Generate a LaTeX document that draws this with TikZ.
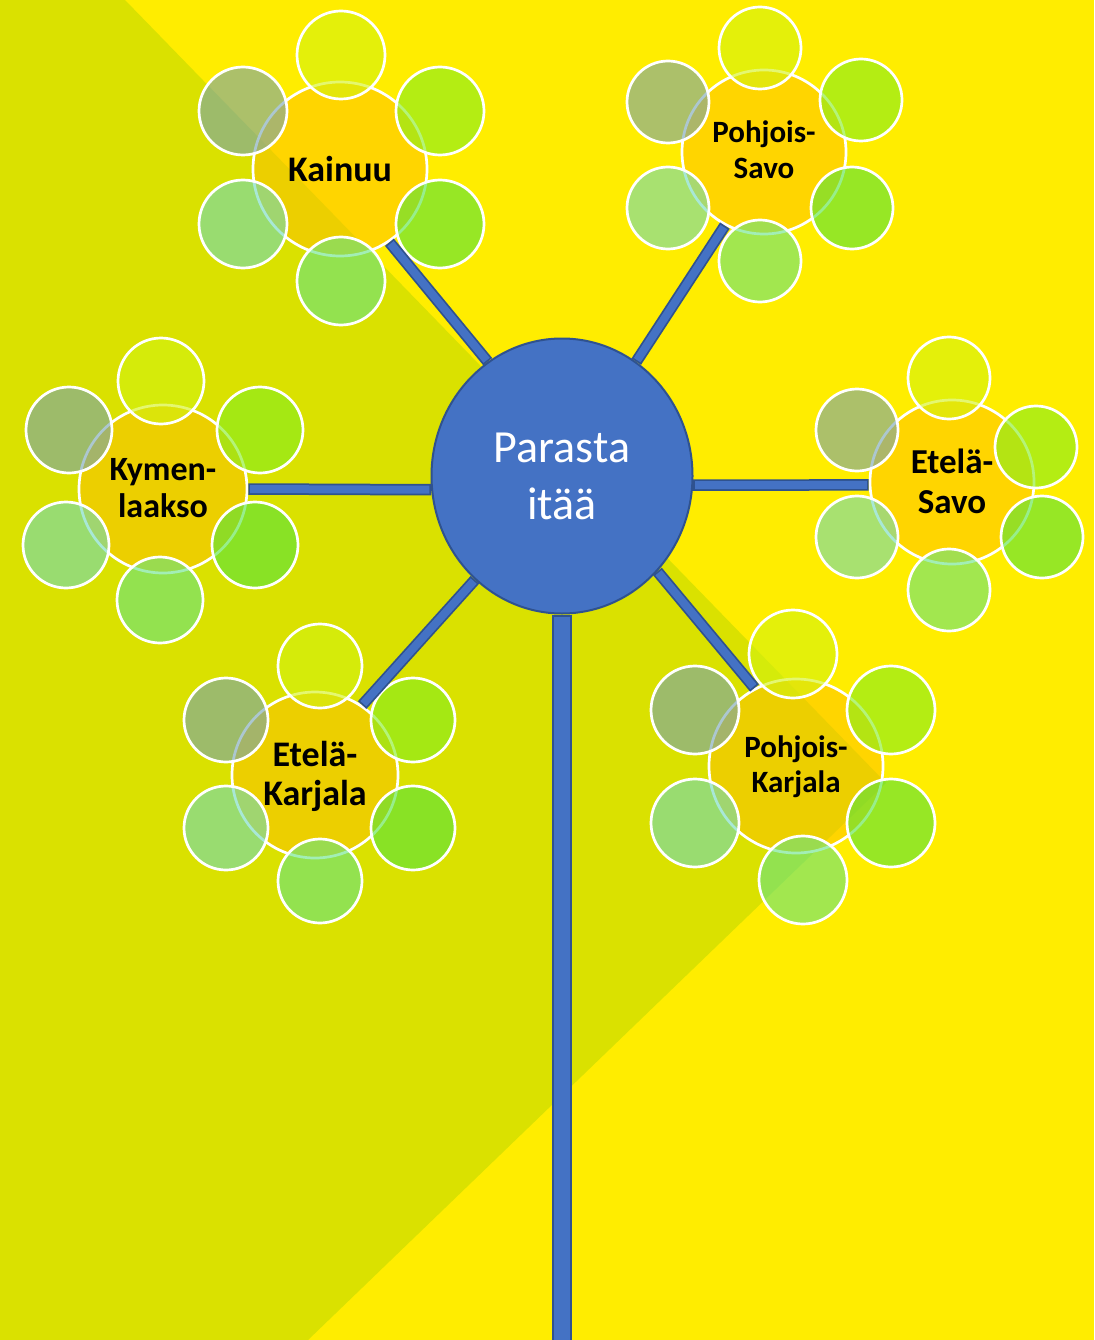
\documentclass[tikz,border=0pt]{standalone}
\usepackage{fontspec}
\setmainfont{Carlito}
\usetikzlibrary{shapes.geometric}
\definecolor{bgyellow}{RGB}{255,237,0}
\definecolor{bgolive}{RGB}{218,225,0}
\definecolor{hubblue}{RGB}{68,114,196}
\definecolor{hubedge}{RGB}{47,82,143}
\definecolor{ctrorange}{RGB}{255,190,0}
\definecolor{pA}{RGB}{210,242,17}
\definecolor{pB}{RGB}{130,238,33}
\definecolor{pC}{RGB}{83,228,63}
\definecolor{pD}{RGB}{100,228,133}
\definecolor{pE}{RGB}{110,218,187}
\definecolor{pF}{RGB}{117,162,177}
\newcommand{\sixpetals}[7]{%
  \draw[petal,fill=pA] #2 circle[radius=#1];
  \draw[petal,fill=pB] #3 circle[radius=#1];
  \draw[petal,fill=pC] #4 circle[radius=#1];
  \draw[petal,fill=pD] #5 circle[radius=#1];
  \draw[petal,fill=pE] #6 circle[radius=#1];
  \draw[petal,fill=pF] #7 circle[radius=#1];
}
\begin{document}
\begin{tikzpicture}[x=1pt,y=-1pt,
  hub/.style={ellipse, fill=hubblue, draw=hubedge, line width=2pt,
    minimum width=261pt, minimum height=275pt, inner sep=0pt,
    text=white, font=\fontsize{46}{57}\selectfont, align=center},
  ctr/.style={circle, fill=ctrorange, fill opacity=0.5, draw=white,
    line width=2.7pt, inner sep=0pt, minimum size=#1},
  petal/.style={draw=white, line width=2.7pt, fill opacity=0.6},
  lbl/.style={text=black, align=center, inner sep=0pt},
  bar/.style={draw=hubedge, line width=11.5pt,
    postaction={draw=hubblue, line width=8pt, shorten >=1.8pt, shorten <=1.8pt}},
  stembar/.style={draw=hubedge, line width=20pt,
    postaction={draw=hubblue, line width=16pt, shorten <=2pt}}
]
\useasboundingbox (0,0) rectangle (1094,1340);
% background
\fill[bgyellow] (0,0) rectangle (1094,1340);
\fill[bgolive] (0,0) -- (125,0) -- (886,783) -- (308,1340) -- (0,1340) -- cycle;

% flower centres
\node[ctr=174pt] (kai) at (340,169) {};
\node[ctr=164pt] (psa) at (764,152) {};
\node[ctr=168pt] (kym) at (163,489) {};
\node[ctr=164pt] (esa) at (952,482) {};
\node[ctr=166pt] (eka) at (315,775) {};
\node[ctr=174pt] (pka) at (796,766) {};

% petals
\sixpetals{44}{(341,55)}{(440,111)}{(440,224)}{(341,281)}{(243,224)}{(243,111)}
\sixpetals{41}{(760,48)}{(861,100)}{(852,208)}{(760,261)}{(668,208)}{(668,102)}
\sixpetals{43}{(161,381)}{(260,430)}{(255,545)}{(160,600)}{(66,545)}{(69,430)}
\sixpetals{41}{(949,378)}{(1036,447)}{(1042,537)}{(949,590)}{(857,537)}{(857,430)}
\sixpetals{42}{(320,666)}{(413,720)}{(413,828)}{(320,881)}{(226,828)}{(226,720)}
\sixpetals{44}{(793,654)}{(891,710)}{(891,823)}{(803,880)}{(695,823)}{(695,710)}

% labels
\node[lbl, font=\bfseries\fontsize{36}{43}\selectfont] (kail) at (340,169) {Kainuu};
\node[lbl, font=\bfseries\fontsize{31}{36}\selectfont] (psal) at (764,150) {Pohjois-\\Savo};
\node[lbl, font=\bfseries\fontsize{34}{37}\selectfont] (kyml) at (163,488) {Kymen-\\laakso};
\node[lbl, font=\bfseries\fontsize{35}{40}\selectfont] (esal) at (952,481) {Etelä-\\Savo};
\node[lbl, font=\bfseries\fontsize{36}{39}\selectfont] (ekal) at (315,776) {Etelä-\\Karjala};
\node[lbl, font=\bfseries\fontsize{31}{35}\selectfont] (pkal) at (796,767) {Pohjois-\\Karjala};

% hub
\node[hub] (hub) at (562,476) {Parasta\\itää};

% connectors
\coordinate (base) at (562,1345);
\draw[stembar] (hub.south) -- (base);
\draw[bar] (kai.-56) -- (hub.123);
\draw[bar] (psa.242) -- (hub.57);
\draw[bar] (kym.0) -- (hub.186);
\draw[bar] (esa.182) -- (hub.-4);
\draw[bar] (eka.56) -- (hub.230);
\draw[bar] (pka.118) -- (hub.-45);
\end{tikzpicture}
\end{document}
